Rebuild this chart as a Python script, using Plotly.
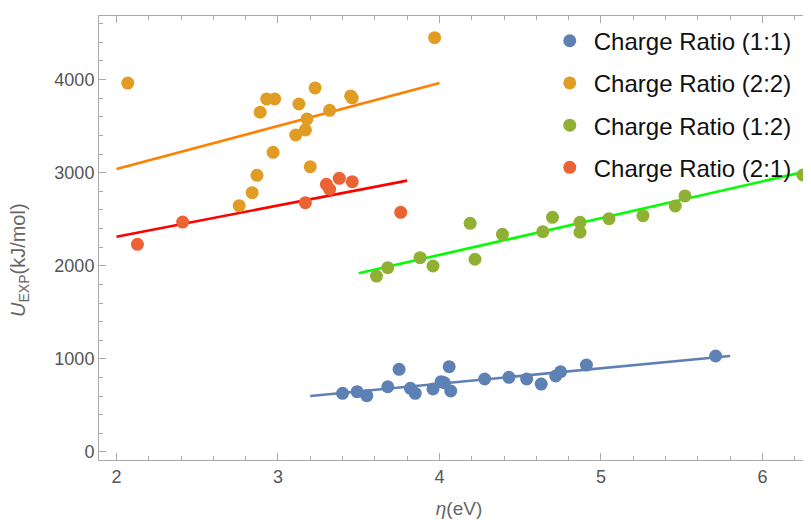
import plotly.graph_objects as go

# ---- data ----
series_names = ["Charge Ratio (1:1)", "Charge Ratio (2:2)", "Charge Ratio (1:2)", "Charge Ratio (2:1)"]

eta_11 = [3.40, 3.49, 3.55, 3.68, 3.75, 3.82, 3.85, 3.96, 4.01, 4.03, 4.06, 4.07, 4.28, 4.43, 4.54, 4.63, 4.72, 4.75, 4.91, 5.71]
u_11 = [630, 648, 605, 701, 888, 684, 630, 677, 755, 744, 916, 655, 784, 802, 784, 730, 816, 862, 934, 1031]

eta_22 = [2.07, 3.97, 2.93, 2.98, 2.89, 3.13, 3.23, 3.45, 3.46, 3.32, 3.18, 3.17, 3.11, 2.97, 3.20, 2.87, 2.84, 2.76]
u_22 = [3963, 4450, 3792, 3792, 3649, 3738, 3910, 3824, 3802, 3670, 3577, 3459, 3405, 3219, 3064, 2972, 2785, 2646]

eta_12 = [3.61, 3.68, 3.88, 3.96, 4.19, 4.22, 4.39, 4.64, 4.70, 4.87, 4.87, 5.05, 5.26, 5.46, 5.52, 6.25]
u_12 = [1890, 1980, 2087, 1998, 2456, 2070, 2338, 2366, 2521, 2467, 2360, 2506, 2538, 2642, 2750, 2975]

eta_21 = [2.13, 2.41, 3.17, 3.30, 3.32, 3.38, 3.46, 3.76]
u_21 = [2231, 2470, 2678, 2875, 2822, 2940, 2903, 2574]

# fitted lines (slope, intercept) and drawn x-span
fit_slope = [165.4, 462.0, 395.0, 335.0]
fit_intercept = [72.0, 2116.0, 537.0, 1642.0]
fit_xmin = [3.2, 2.0, 3.5, 2.0]
fit_xmax = [5.8, 4.0, 6.5, 3.8]

x_ticks = [2, 3, 4, 5, 6]
y_ticks = [0, 1000, 2000, 3000, 4000]

point_colors = ["#5E81B5", "#E19C24", "#8FB032", "#EB6235"]
line_colors = ["#5E81B5", "#FF8000", "#00FF00", "#FF0000"]

xs = [eta_11, eta_22, eta_12, eta_21]
ys = [u_11, u_22, u_12, u_21]

fig = go.Figure()

for i in range(4):
    lx = [fit_xmin[i], fit_xmax[i]]
    ly = [fit_slope[i] * v + fit_intercept[i] for v in lx]
    fig.add_trace(go.Scatter(x=lx, y=ly, mode="lines", showlegend=False,
                             line=dict(color=line_colors[i], width=2.6), hoverinfo="skip"))

for i in range(4):
    fig.add_trace(go.Scatter(x=xs[i], y=ys[i], mode="markers", name=series_names[i],
                             legendgroup=series_names[i],
                             marker=dict(color=point_colors[i], size=13, line=dict(width=0))))

axis_col = "#AAAAAA"
tick_font = dict(family="Liberation Sans, Arial, sans-serif", size=18, color="#555555")

fig.update_layout(
    width=811, height=525,
    margin=dict(l=91, r=0, t=8, b=73),
    plot_bgcolor="white", paper_bgcolor="white",
    font=dict(family="Liberation Sans, Arial, sans-serif"),
    legend=dict(x=0.6205, y=0.994, xanchor="left", yanchor="top",
                font=dict(size=24, color="#111111"), tracegroupgap=8,
                bgcolor="rgba(0,0,0,0)", itemwidth=38),
    showlegend=True,
    annotations=[dict(text="<i>U</i><sub>EXP</sub>(kJ/mol)", textangle=-90,
                      xref="paper", yref="paper", x=(12 - 91) / 720, y=(452 - 252) / 444,
                      xanchor="center", yanchor="middle", showarrow=False,
                      font=dict(size=20, color="#666666"))],
)

fig.update_xaxes(
    range=[1.892, 6.35], tickvals=x_ticks, ticks="inside", ticklen=7, tickcolor=axis_col,
    showline=True, linecolor=axis_col, linewidth=1, mirror="ticks", showgrid=False, zeroline=False,
    tickfont=tick_font, automargin=False,
    minor=dict(dtick=0.2, ticks="inside", ticklen=4, tickcolor=axis_col, showgrid=False),
    title=dict(text="<i>η</i>(eV)", font=dict(size=19, color="#666666"), standoff=16),
)
fig.update_yaxes(
    range=[-86, 4683], tickvals=y_ticks, ticks="inside", ticklen=7, tickcolor=axis_col,
    showline=True, linecolor=axis_col, linewidth=1, showgrid=False, zeroline=False,
    tickfont=tick_font, automargin=False,
    minor=dict(dtick=200, ticks="inside", ticklen=4, tickcolor=axis_col, showgrid=False),
)

fig.write_html("out.html")
